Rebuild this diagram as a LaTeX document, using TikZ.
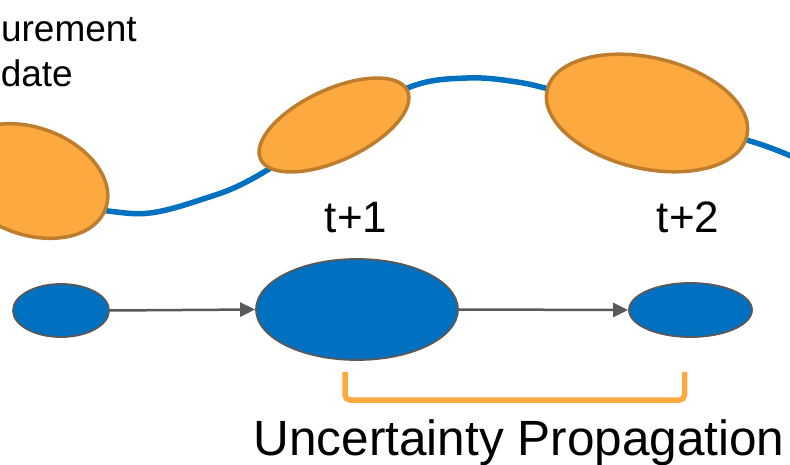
\documentclass[tikz,border=0pt]{standalone}
\usepackage{fontspec}
\setmainfont{Liberation Sans}
\usetikzlibrary{shapes.geometric,arrows.meta}
\definecolor{orfill}{HTML}{FCA940}
\definecolor{orline}{HTML}{BD7D2D}
\definecolor{trajblue}{HTML}{0070C0}
\definecolor{stgray}{HTML}{595959}
\tikzset{
  orell/.style={ellipse, draw=orline, fill=orfill, line width=3.5pt, inner sep=0pt},
  stateell/.style={ellipse, draw=stgray, fill=trajblue, line width=1.8pt, inner sep=0pt},
  traj/.style={draw=trajblue, line width=5.5pt},
  prop/.style={draw=stgray, line width=2.5pt, -{Triangle[length=15pt,width=14pt]}, shorten >=0pt},
  bracketline/.style={draw=orfill, line width=5.5pt, rounded corners=5pt},
  lbl/.style={inner sep=0pt, anchor=base, text=black},
  mulbl/.style={inner sep=0pt, anchor=base east, text=black, font=\fontsize{37}{45}\selectfont}
}
\begin{document}
\begin{tikzpicture}[x=1pt,y=-1pt]
\useasboundingbox (0,0) rectangle (790,465);
\clip (0,0) rectangle (790,465);
% trajectory
\draw[traj] plot[smooth, tension=0.6] coordinates {(60,203) (108,211) (150,213) (200,200) (250,180) (335,128) (410,87) (467,78) (517,82) (560,92) (650,116) (750,141) (800,160)};
% measurement update ellipses
\node[orell, minimum width=161pt, minimum height=107pt, rotate=-20] (o1) at (30,181) {};
\node[orell, minimum width=162pt, minimum height=71pt, rotate=25] (o2) at (334,125) {};
\node[orell, minimum width=205pt, minimum height=111pt, rotate=-13] (o3) at (647,113) {};
% text
\node[mulbl] (mu1) at (137,42) {Measurement};
\node[mulbl] (mu2) at (73,87) {update};
\node[lbl, font=\fontsize{44}{50}\selectfont] (t1) at (356,233) {t+1};
\node[lbl, font=\fontsize{44}{50}\selectfont] (t2) at (688,233) {t+2};
% state ellipses
\node[stateell, minimum width=96pt, minimum height=53pt] (s0) at (61,310.5) {};
\node[stateell, minimum width=202pt, minimum height=101pt] (s1) at (357,309.5) {};
\node[stateell, minimum width=123pt, minimum height=54pt] (s2) at (690.5,310) {};
\draw[prop] (s0.east) -- (s1.west);
\draw[prop] (s1.east) -- (s2.west);
% bracket
\coordinate (b1) at (345,372);
\coordinate (b2) at (684.5,372);
\draw[bracketline] (b1) -- (b1 |- 0,400) -- (b2 |- 0,400) -- (b2);
\node[lbl, font=\fontsize{49.5}{56}\selectfont] (up) at (519,455) {Uncertainty Propagation};
\end{tikzpicture}
\end{document}
